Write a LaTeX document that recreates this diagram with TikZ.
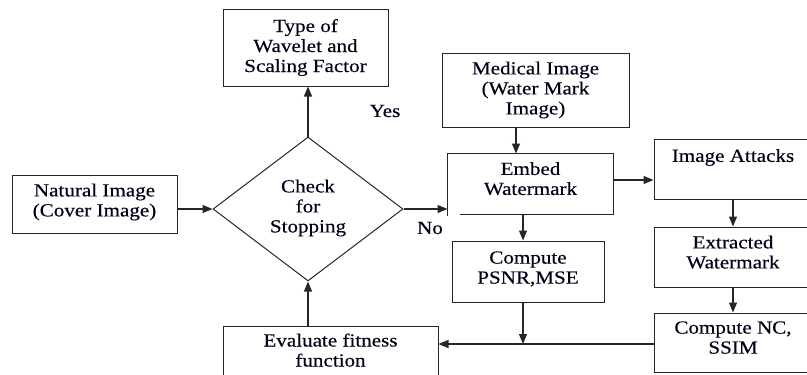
\documentclass[tikz,border=0pt]{standalone}
\usepackage{fontspec}
\setmainfont{Liberation Serif}[FakeStretch=1.14,FakeBold=0.3]
\usetikzlibrary{shapes.geometric,arrows.meta}
\begin{document}
\begin{tikzpicture}[x=1pt,y=-1pt,
  every node/.style={font=\fontsize{18.5}{20}\selectfont, text=black!90!blue},
  box/.style={draw=black!85, line width=1pt, rectangle, inner sep=0pt, align=center},
  dia/.style={draw=black!85, line width=1pt, diamond, inner sep=0pt, align=center},
  arr/.style={draw=black!85, line width=1.2pt, -{Triangle[length=10pt,width=8pt]}},
  ln/.style={draw=black!85, line width=1pt}]
\useasboundingbox (0,0) rectangle (807,375);
\node[box, minimum width=165pt, minimum height=77pt] (wav) at (305.5,47.5) {Type of\\Wavelet and\\Scaling Factor};
\node[box, minimum width=165pt, minimum height=58pt, text depth=8pt] (nat) at (94.5,204) {Natural Image\\(Cover Image)};
\node[dia, minimum width=190pt, minimum height=144pt, text depth=6pt] (chk) at (308,209) {Check\\for\\Stopping};
\node[box, minimum width=187pt, minimum height=74pt] (med) at (535.5,90) {Medical Image\\(Water Mark\\Image)};
\node[box, draw=none, minimum width=165pt, minimum height=60pt, text depth=11pt] (emb) at (530.5,184) {Embed\\Watermark};
\node[box, minimum width=158pt, minimum height=60pt, label={[anchor=north, yshift=-7pt]north:Image Attacks}] (ia) at (733,169) {};
\node[box, minimum width=158pt, minimum height=60pt, text depth=10pt] (ext) at (733,257) {Extracted\\Watermark};
\node[box, minimum width=158pt, minimum height=59pt, text depth=10pt] (nc) at (733,342.5) {Compute NC,\\SSIM};
\node[box, minimum width=152pt, minimum height=61pt, text depth=8pt] (psnr) at (528,271.5) {Compute\\PSNR,MSE};
\node[box, minimum width=215pt, minimum height=56pt, text depth=8pt] (eva) at (330.5,354) {Evaluate fitness\\function};
\node (yes) at (385,111) {Yes};
\node (no) at (430,228) {No};
\draw[ln] ([xshift=12pt]emb.south west) -- (emb.south east) -- (emb.north east) -- (emb.north west) -- ([yshift=-1pt]emb.south west);
\coordinate (xa) at (516,0);
\coordinate (xb) at (523,0);
\coordinate (ya) at (0,180);
\coordinate (yb) at (0,344);
\coordinate (jn) at (523,344);
\draw[arr] (chk.north) -- (chk.north |- wav.south);
\draw[arr] (nat.east |- chk.west) -- (chk.west);
\draw[arr] (chk.east) -- (emb.west |- chk.east);
\draw[arr] (eva.north -| chk.south) -- (chk.south);
\draw[arr] (med.south -| xa) -- (emb.north -| xa);
\draw[arr] (emb.east |- ya) -- (ia.west |- ya);
\draw[arr] (ia.south) -- (ext.north);
\draw[arr] (ext.south) -- (nc.north);
\draw[arr] (emb.south -| xb) -- (psnr.north -| xb);
\draw[arr] (psnr.south -| xb) -- (jn);
\draw[arr] (nc.west |- yb) -- (eva.east |- yb);
\end{tikzpicture}
\end{document}
